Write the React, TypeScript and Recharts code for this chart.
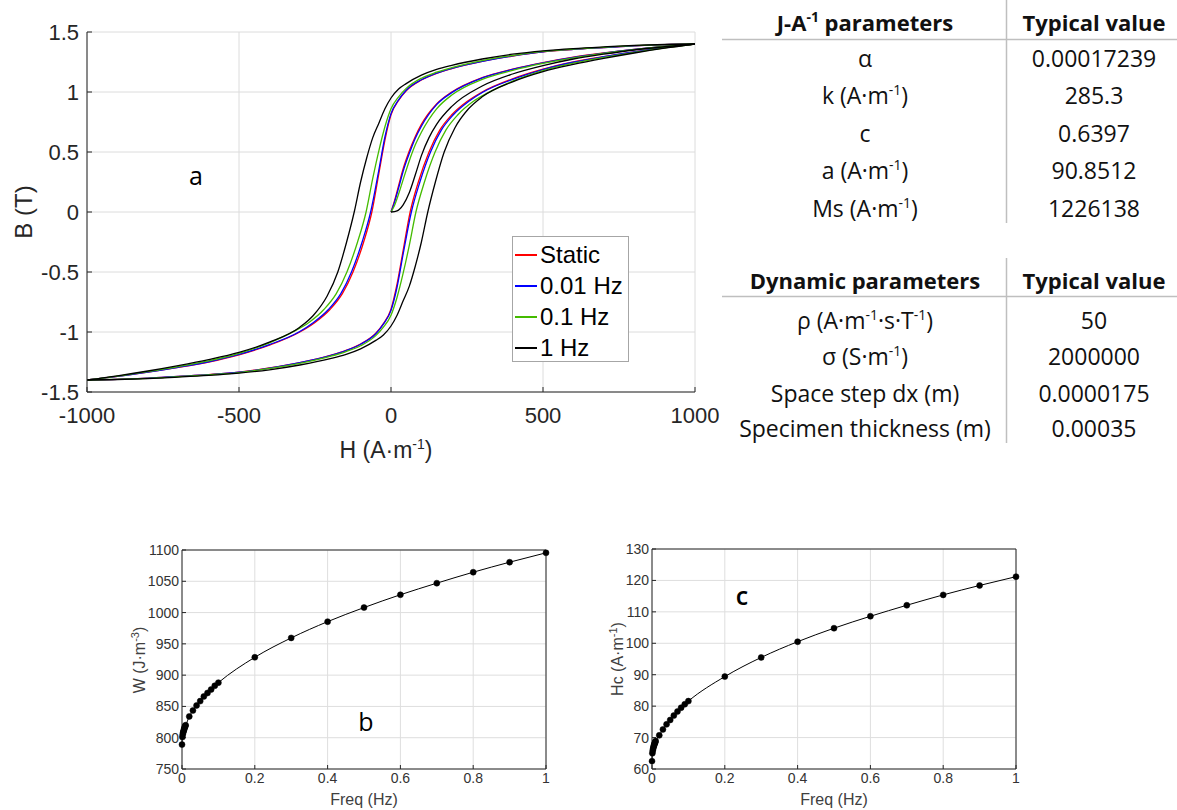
import React from 'react';
import { LineChart, Line, XAxis, YAxis, CartesianGrid, Legend, ReferenceLine } from 'recharts';

type Pt = [number, number];

// ---------- Panel a : B-H loops (H in A/m, B in T) ----------
const staticInit: Pt[] = [[0,0],[10,0.08],[25,0.22],[40,0.36],[62,0.52],[80,0.63],[100,0.73],[150,0.9],[200,1.0],[300,1.12],[400,1.19],[500,1.245],[600,1.29],[700,1.325],[800,1.355],[900,1.38],[1000,1.4]];
const staticDesc: Pt[] = [[1000,1.4],[900,1.395],[800,1.385],[700,1.37],[600,1.355],[500,1.335],[400,1.3],[300,1.255],[200,1.195],[150,1.155],[100,1.1],[50,1.01],[25,0.93],[0,0.81],[-20,0.6],[-40,0.32],[-63,0],[-90,-0.25],[-125,-0.5],[-160,-0.68],[-200,-0.81],[-250,-0.92],[-300,-1.0],[-400,-1.11],[-500,-1.19],[-600,-1.25],[-700,-1.295],[-800,-1.335],[-900,-1.37],[-1000,-1.4]];
const staticAsc: Pt[] = [[-1000,-1.4],[-900,-1.395],[-800,-1.385],[-700,-1.37],[-600,-1.355],[-500,-1.335],[-400,-1.3],[-300,-1.255],[-200,-1.195],[-150,-1.155],[-100,-1.1],[-50,-1.01],[-25,-0.93],[0,-0.81],[20,-0.6],[40,-0.32],[63,0],[90,0.25],[125,0.5],[160,0.68],[200,0.81],[250,0.92],[300,1.0],[400,1.11],[500,1.19],[600,1.25],[700,1.295],[800,1.335],[900,1.37],[1000,1.4]];

const hz001Init: Pt[] = [[0,0],[10,0.07],[25,0.2],[40,0.34],[62,0.5],[80,0.615],[100,0.715],[150,0.895],[200,0.995],[300,1.117],[400,1.188],[500,1.243],[600,1.288],[700,1.324],[800,1.354],[900,1.379],[1000,1.4]];
const hz001Desc: Pt[] = [[1000,1.4],[900,1.395],[800,1.385],[700,1.37],[600,1.355],[500,1.335],[400,1.301],[300,1.256],[200,1.197],[150,1.157],[100,1.102],[50,1.015],[25,0.935],[0,0.82],[-20,0.625],[-40,0.35],[-67,0],[-95,-0.25],[-130,-0.5],[-165,-0.68],[-205,-0.81],[-255,-0.92],[-303,-1.0],[-400,-1.105],[-500,-1.187],[-600,-1.248],[-700,-1.294],[-800,-1.334],[-900,-1.37],[-1000,-1.4]];
const hz001Asc: Pt[] = [[-1000,-1.4],[-900,-1.395],[-800,-1.385],[-700,-1.37],[-600,-1.355],[-500,-1.335],[-400,-1.301],[-300,-1.256],[-200,-1.197],[-150,-1.157],[-100,-1.102],[-50,-1.015],[-25,-0.935],[0,-0.82],[20,-0.625],[40,-0.35],[67,0],[95,0.25],[130,0.5],[165,0.68],[205,0.81],[255,0.92],[303,1.0],[400,1.105],[500,1.187],[600,1.248],[700,1.294],[800,1.334],[900,1.37],[1000,1.4]];

const hz01Init: Pt[] = [[0,0],[10,0.045],[25,0.15],[40,0.27],[62,0.44],[80,0.56],[100,0.665],[150,0.86],[200,0.975],[300,1.105],[400,1.18],[500,1.238],[600,1.285],[700,1.322],[800,1.353],[900,1.379],[1000,1.4]];
const hz01Desc: Pt[] = [[1000,1.4],[900,1.395],[800,1.386],[700,1.372],[600,1.357],[500,1.338],[400,1.304],[300,1.262],[200,1.203],[150,1.165],[100,1.115],[50,1.03],[25,0.96],[0,0.86],[-20,0.71],[-40,0.51],[-60,0.28],[-82,0],[-110,-0.25],[-145,-0.5],[-180,-0.68],[-220,-0.81],[-270,-0.92],[-320,-0.995],[-400,-1.09],[-500,-1.178],[-600,-1.24],[-700,-1.288],[-800,-1.33],[-900,-1.368],[-1000,-1.4]];
const hz01Asc: Pt[] = [[-1000,-1.4],[-900,-1.395],[-800,-1.386],[-700,-1.372],[-600,-1.357],[-500,-1.338],[-400,-1.304],[-300,-1.262],[-200,-1.203],[-150,-1.165],[-100,-1.115],[-50,-1.03],[-25,-0.96],[0,-0.86],[20,-0.71],[40,-0.51],[60,-0.28],[82,0],[110,0.25],[145,0.5],[180,0.68],[220,0.81],[270,0.92],[320,0.995],[400,1.09],[500,1.178],[600,1.24],[700,1.288],[800,1.33],[900,1.368],[1000,1.4]];

const hz1Init: Pt[] = [[0,0],[20,0.01],[40,0.06],[60,0.16],[80,0.31],[100,0.47],[125,0.62],[150,0.73],[200,0.88],[300,1.05],[400,1.15],[500,1.22],[600,1.275],[700,1.315],[800,1.35],[900,1.377],[1000,1.4]];
const hz1Desc: Pt[] = [[1000,1.4],[900,1.396],[800,1.388],[700,1.376],[600,1.362],[500,1.343],[400,1.315],[300,1.275],[200,1.222],[150,1.188],[100,1.14],[50,1.07],[25,1.025],[0,0.95],[-20,0.86],[-40,0.74],[-60,0.62],[-80,0.45],[-100,0.25],[-121,0],[-146,-0.25],[-175,-0.5],[-210,-0.7],[-255,-0.86],[-300,-0.96],[-400,-1.085],[-500,-1.17],[-600,-1.23],[-700,-1.28],[-800,-1.325],[-900,-1.365],[-1000,-1.4]];
const hz1Asc: Pt[] = [[-1000,-1.4],[-900,-1.396],[-800,-1.388],[-700,-1.376],[-600,-1.362],[-500,-1.343],[-400,-1.315],[-300,-1.275],[-200,-1.222],[-150,-1.188],[-100,-1.14],[-50,-1.07],[-25,-1.025],[0,-0.95],[20,-0.86],[40,-0.74],[60,-0.62],[80,-0.45],[100,-0.25],[121,0],[146,0.25],[175,0.5],[210,0.7],[255,0.86],[300,0.96],[400,1.085],[500,1.17],[600,1.23],[700,1.28],[800,1.325],[900,1.365],[1000,1.4]];

const seriesNames = ['Static', '0.01 Hz', '0.1 Hz', '1 Hz'];
const seriesColors = ['#ff0000', '#0000ff', '#44bb00', '#000000'];
const seriesBranches: Pt[][][] = [
  [staticInit, staticDesc, staticAsc],
  [hz001Init, hz001Desc, hz001Asc],
  [hz01Init, hz01Desc, hz01Asc],
  [hz1Init, hz1Desc, hz1Asc],
];
const hTicks = [-1000, -500, 0, 500, 1000];
const bTicks = [-1.5, -1, -0.5, 0, 0.5, 1, 1.5];

// ---------- Panels b, c ----------
const freq = [0, 0.001, 0.002, 0.003, 0.004, 0.005, 0.006, 0.007, 0.008, 0.009, 0.01, 0.02, 0.03, 0.04, 0.05, 0.06, 0.07, 0.08, 0.09, 0.1, 0.2, 0.3, 0.4, 0.5, 0.6, 0.7, 0.8, 0.9, 1];
const wLoss = [789, 801, 805, 808, 810, 812, 814, 816, 817, 819, 820, 834, 843.5, 851.5, 858.5, 866, 871.5, 877, 883, 888, 928.5, 959.5, 985.5, 1008, 1028.5, 1047, 1064.5, 1080.5, 1095.5];
const hcVals = [62.5, 65, 65.8, 66.4, 66.9, 67.3, 67.7, 68.0, 68.3, 68.6, 68.9, 70.7, 72.6, 74.2, 75.6, 77.0, 78.3, 79.5, 80.6, 81.6, 89.4, 95.5, 100.5, 104.8, 108.6, 112.1, 115.4, 118.4, 121.2];
const freqTicks = [0, 0.2, 0.4, 0.6, 0.8, 1];
const wTicks = [750, 800, 850, 900, 950, 1000, 1050, 1100];
const hcTicks = [60, 70, 80, 90, 100, 110, 120, 130];

// ---------- Tables ----------
const jaValues = ['0.00017239', '285.3', '0.6397', '90.8512', '1226138'];
const dynValues = ['50', '2000000', '0.0000175', '0.00035'];

const AX = '#262626';
const SANS = '"Liberation Sans", Arial, sans-serif';
const CAL = '"Open Sans", Lato, sans-serif';

const toPts = (arr: Pt[]) => arr.map(([H, B]) => ({ H, B }));

function LegendBox() {
  return (
    <div style={{ width: 117, height: 126, border: '1px solid #a6a6a6', background: '#fff', boxSizing: 'border-box', fontFamily: SANS, fontSize: 24, color: '#000', paddingTop: 2 }}>
      {seriesNames.map((n, i) => (
        <div key={n} style={{ display: 'flex', alignItems: 'center', height: 31 }}>
          <div style={{ width: 22, height: 2, background: seriesColors[i], marginLeft: 2, marginRight: 3 }} />
          <span style={{ lineHeight: '31px' }}>{n}</span>
        </div>
      ))}
    </div>
  );
}

const smallTick = { fill: '#333', fontSize: 14, fontFamily: SANS };

export default function App() {
  const freqW = freq.map((f, i) => ({ f, v: wLoss[i] }));
  const freqHc = freq.map((f, i) => ({ f, v: hcVals[i] }));
  return (
    <div style={{ position: 'absolute', left: 0, top: 0, width: 1177, height: 810, background: '#fff', overflow: 'hidden' }}>
      <div style={{ position: 'absolute', left: 0, top: 0 }}>
        <LineChart width={720} height={470} margin={{ top: 32, right: 25, bottom: 28, left: 27 }}>
          <CartesianGrid stroke="#dcdcdc" strokeWidth={1} />
          <XAxis dataKey="H" type="number" domain={[-1000, 1000]} ticks={hTicks} height={50}
            stroke={AX} tickSize={-5} tickMargin={20} allowDataOverflow
            tick={{ fill: AX, fontSize: 22, fontFamily: SANS }} />
          <YAxis dataKey="B" type="number" domain={[-1.5, 1.5]} ticks={bTicks} width={60}
            stroke={AX} tickSize={-5} tickMargin={13} allowDataOverflow
            tick={{ fill: AX, fontSize: 22, fontFamily: SANS }} />
          {seriesBranches.map((branches, si) =>
            branches.map((br, bi) => (
              <Line key={`${si}-${bi}`} data={toPts(br)} dataKey="B" type="monotone"
                stroke={seriesColors[si]} strokeWidth={1.3} dot={false}
                isAnimationActive={false} legendType="none" />
            ))
          )}
          <Legend layout="horizontal" verticalAlign="middle" align="center"
            wrapperStyle={{ left: 512, top: 236, width: 117 }} content={() => <LegendBox />} />
        </LineChart>
      </div>

      <div style={{ position: 'absolute', left: 100, top: 530 }}>
        <LineChart width={470} height={280} data={freqW} margin={{ top: 20, right: 24, bottom: 11, left: 42 }}>
          <CartesianGrid stroke="#dedede" />
          <XAxis dataKey="f" type="number" domain={[0, 1]} ticks={freqTicks} height={30}
            stroke={AX} tickSize={-4} tickMargin={8} tick={smallTick} />
          <YAxis type="number" domain={[750, 1100]} ticks={wTicks} width={40}
            stroke={AX} tickSize={-4} tickMargin={7} tick={smallTick} />
          <ReferenceLine y={1100} stroke={AX} />
          <ReferenceLine x={1} stroke={AX} />
          <Line dataKey="v" type="monotone" stroke="#000" strokeWidth={1}
            dot={{ r: 3, fill: '#000', stroke: '#000', strokeWidth: 0.5 }} isAnimationActive={false} />
        </LineChart>
      </div>

      <div style={{ position: 'absolute', left: 570, top: 530 }}>
        <LineChart width={470} height={280} data={freqHc} margin={{ top: 19, right: 24, bottom: 11, left: 42 }}>
          <CartesianGrid stroke="#dedede" />
          <XAxis dataKey="f" type="number" domain={[0, 1]} ticks={freqTicks} height={30}
            stroke={AX} tickSize={-4} tickMargin={8} tick={smallTick} />
          <YAxis type="number" domain={[60, 130]} ticks={hcTicks} width={40}
            stroke={AX} tickSize={-4} tickMargin={7} tick={smallTick} />
          <ReferenceLine y={130} stroke={AX} />
          <ReferenceLine x={1} stroke={AX} />
          <Line dataKey="v" type="monotone" stroke="#000" strokeWidth={1}
            dot={{ r: 3, fill: '#000', stroke: '#000', strokeWidth: 0.5 }} isAnimationActive={false} />
        </LineChart>
      </div>

      <svg width={1177} height={810} style={{ position: 'absolute', left: 0, top: 0, pointerEvents: 'none' }}>
        {/* panel a titles */}
        <text x={31.5} y={212} transform="rotate(-90 31.5 212)" textAnchor="middle" fontFamily={SANS} fontSize={24} fill={AX}>B (T)</text>
        <text x={386} y={458} textAnchor="middle" fontFamily={SANS} fontSize={23} fill={AX}>
          <tspan>H (A·m</tspan><tspan dy={-9} fontSize={14}>-1</tspan><tspan dy={9}>)</tspan>
        </text>
        <text x={196} y={185} textAnchor="middle" fontFamily={CAL} fontSize={25} fill="#000">a</text>

        {/* panel b, c titles */}
        <text x={145} y={660} transform="rotate(-90 145 660)" textAnchor="middle" fontFamily={SANS} fontSize={16} fill="#404040">
          <tspan>W (J·m</tspan><tspan dy={-6} fontSize={11}>-3</tspan><tspan dy={6}>)</tspan>
        </text>
        <text x={364} y={805} textAnchor="middle" fontFamily={SANS} fontSize={16} fill="#404040">Freq (Hz)</text>
        <text x={366} y={731} textAnchor="middle" fontFamily={CAL} fontSize={25} fill="#000">b</text>

        <text x={623} y={659} transform="rotate(-90 623 659)" textAnchor="middle" fontFamily={SANS} fontSize={16} fill="#404040">
          <tspan>Hc (A·m</tspan><tspan dy={-6} fontSize={11}>-1</tspan><tspan dy={6}>)</tspan>
        </text>
        <text x={834} y={805} textAnchor="middle" fontFamily={SANS} fontSize={16} fill="#404040">Freq (Hz)</text>
        <text x={742} y={605} textAnchor="middle" fontFamily={CAL} fontSize={25} fontWeight="600" fill="#000">c</text>

        {/* table 1 */}
        <line x1={722} y1={39.5} x2={1177} y2={39.5} stroke="#bfbfbf" strokeWidth={1.5} />
        <line x1={1006.5} y1={0} x2={1006.5} y2={223} stroke="#bfbfbf" strokeWidth={1.5} />
        <g fontFamily={CAL} fontSize={23} fill="#111" textAnchor="middle">
          <text x={865} y={31} fontSize={22} fontWeight="bold"><tspan>J-A</tspan><tspan dy={-9} fontSize={14}>-1</tspan><tspan dy={9}> parameters</tspan></text>
          <text x={1094} y={31} fontSize={22} fontWeight="bold">Typical value</text>
          <text x={865} y={66.5}>α</text>
          <text x={865} y={104}><tspan>k (A·m</tspan><tspan dy={-9} fontSize={14}>-1</tspan><tspan dy={9}>)</tspan></text>
          <text x={865} y={141.5}>c</text>
          <text x={865} y={179}><tspan>a (A·m</tspan><tspan dy={-9} fontSize={14}>-1</tspan><tspan dy={9}>)</tspan></text>
          <text x={865} y={216.5}><tspan>Ms (A·m</tspan><tspan dy={-9} fontSize={14}>-1</tspan><tspan dy={9}>)</tspan></text>
          {jaValues.map((v, i) => (
            <text key={v} x={1094} y={66.5 + 37.5 * i}>{v}</text>
          ))}
        </g>

        {/* table 2 */}
        <line x1={722} y1={296.5} x2={1177} y2={296.5} stroke="#bfbfbf" strokeWidth={1.5} />
        <line x1={1006.5} y1={258} x2={1006.5} y2={443} stroke="#bfbfbf" strokeWidth={1.5} />
        <g fontFamily={CAL} fontSize={23} fill="#111" textAnchor="middle">
          <text x={865} y={288.5} fontSize={22} fontWeight="bold">Dynamic parameters</text>
          <text x={1094} y={288.5} fontSize={22} fontWeight="bold">Typical value</text>
          <text x={865} y={328.5}><tspan>ρ (A·m</tspan><tspan dy={-9} fontSize={14}>-1</tspan><tspan dy={9}>·s·T</tspan><tspan dy={-9} fontSize={14}>-1</tspan><tspan dy={9}>)</tspan></text>
          <text x={865} y={365}><tspan>σ (S·m</tspan><tspan dy={-9} fontSize={14}>-1</tspan><tspan dy={9}>)</tspan></text>
          <text x={865} y={401.5}>Space step dx (m)</text>
          <text x={865} y={437}>Specimen thickness (m)</text>
          {dynValues.map((v, i) => (
            <text key={v} x={1094} y={[328.5, 365, 401.5, 437][i]}>{v}</text>
          ))}
        </g>
      </svg>
    </div>
  );
}
